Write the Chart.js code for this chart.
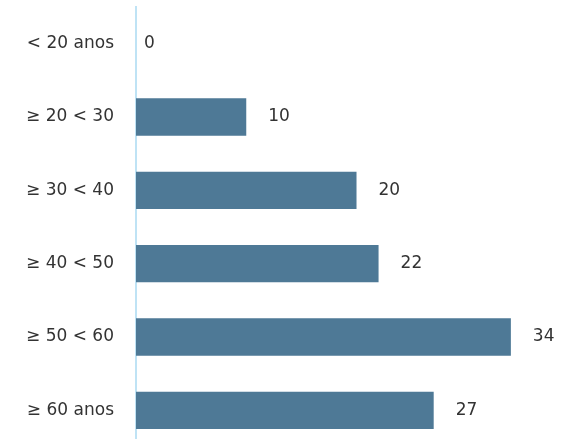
<!DOCTYPE html>
<html>
<head>
<meta charset="utf-8">
<script src="https://cdn.jsdelivr.net/npm/chart.js@4"></script>
<style>
  html, body { margin: 0; padding: 0; background: #fff; overflow: hidden; }
  #wrap { width: 573px; height: 447px; }
</style>
</head>
<body>
<div id="wrap"><canvas id="myChart" width="573" height="447"></canvas></div>
<script>
const ctx = document.getElementById('myChart');

// faixas etárias e contagem
const faixas = ['< 20 anos', '≥ 20 < 30', '≥ 30 < 40', '≥ 40 < 50', '≥ 50 < 60', '≥ 60 anos'];
const valores = [0, 10, 20, 22, 34, 27];

// escreve o valor à direita de cada barra
const valorLabels = {
  id: 'valorLabels',
  afterDatasetsDraw(chart) {
    const c = chart.ctx;
    const meta = chart.getDatasetMeta(0);
    c.save();
    c.font = '17px "DejaVu Sans"';
    c.fillStyle = '#333';
    c.textBaseline = 'middle';
    c.textAlign = 'left';
    meta.data.forEach((bar, i) => {
      const v = valores[i];
      const off = v > 0 ? 22 : 8;
      c.fillText(String(v), bar.x + off, bar.y);
    });
    c.restore();
  }
};

new Chart(ctx, {
  type: 'bar',
  data: {
    labels: faixas,
    datasets: [{
      data: valores,
      backgroundColor: '#4e7996',
      categoryPercentage: 1,
      barPercentage: 0.51
    }]
  },
  options: {
    indexAxis: 'y',
    responsive: false,
    animation: false,
    layout: { padding: { top: 7, right: 7, bottom: 0, left: 0 } },
    plugins: { legend: { display: false }, tooltip: { enabled: false } },
    scales: {
      x: { display: false, min: 0, max: 39 },
      y: {
        afterFit(scale) {
          scale.width = 136;
          scale.paddingTop = 0;
          scale.paddingBottom = 0;
        },
        grid: { display: false, drawTicks: false },
        border: { display: true, color: '#bfe3f5', width: 2 },
        ticks: {
          padding: 22,
          color: '#333',
          font: { family: 'DejaVu Sans', size: 17 }
        }
      }
    }
  },
  plugins: [valorLabels]
});
</script>
</body>
</html>
